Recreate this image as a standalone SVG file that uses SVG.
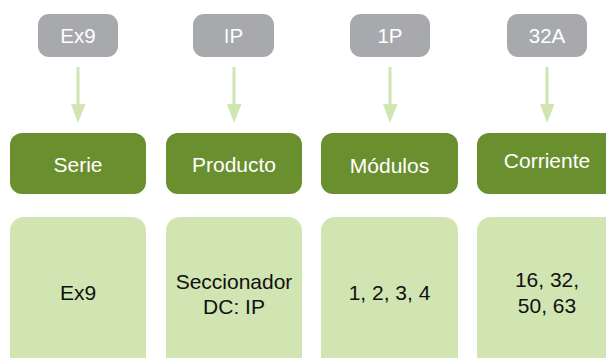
<svg xmlns="http://www.w3.org/2000/svg" width="606" height="358" viewBox="0 0 606 358">
<defs>
<style>
.tag rect{fill:#a7a9ac}
.tag text{fill:#ffffff;font-family:"Liberation Sans",Arial,sans-serif;font-size:20.5px;text-anchor:middle}
.head rect{fill:#6a8f2f}
.head text{fill:#ffffff;font-family:"Liberation Sans",Arial,sans-serif;font-size:21px;text-anchor:middle}
.val rect{fill:#d0e5b1}
.val text{fill:#111111;font-family:"Liberation Sans",Arial,sans-serif;font-size:21px;text-anchor:middle}
.conn line{stroke:#d0e5b1;stroke-width:3}
.conn polygon{fill:#d0e5b1}
</style>
</defs>
<rect width="606" height="358" fill="#ffffff"/>
<g id="tag-ex9" class="tag"><rect x="38" y="14" width="80" height="43" rx="11"/><text x="78" y="43">Ex9</text></g>
<g id="tag-ip" class="tag"><rect x="193" y="14" width="81" height="43" rx="11"/><text x="233.5" y="43">IP</text></g>
<g id="tag-1p" class="tag"><rect x="350" y="14" width="80" height="43" rx="11"/><text x="390" y="43">1P</text></g>
<g id="tag-32a" class="tag"><rect x="507" y="14" width="80" height="43" rx="11"/><text x="547" y="43">32A</text></g>
<g id="connectors" class="conn">
<line x1="78" y1="67" x2="78" y2="105"/><polygon points="71,104 85.5,104 78,123"/>
<line x1="234" y1="67" x2="234" y2="105"/><polygon points="227,104 241.5,104 234,123"/>
<line x1="390" y1="67" x2="390" y2="105"/><polygon points="383,104 397.5,104 390,123"/>
<line x1="547" y1="67" x2="547" y2="105"/><polygon points="540,104 554.5,104 547,123"/>
</g>
<g id="head-serie" class="head"><rect x="10" y="133" width="136" height="61" rx="12"/><text x="78" y="172">Serie</text></g>
<g id="head-producto" class="head"><rect x="166" y="133" width="136" height="61" rx="12"/><text x="234" y="172">Producto</text></g>
<g id="head-modulos" class="head"><rect x="321" y="133" width="137" height="61" rx="12"/><text x="389.5" y="173">Módulos</text></g>
<g id="head-corriente" class="head"><rect x="477" y="133" width="145" height="61" rx="12"/><text x="547" y="168">Corriente</text></g>
<g id="val-serie" class="val"><rect x="10" y="217" width="136" height="160" rx="14"/><text x="78" y="300">Ex9</text></g>
<g id="val-producto" class="val"><rect x="166" y="217" width="136" height="160" rx="14"/><text x="234" y="289">Seccionador</text><text x="234" y="314">DC: IP</text></g>
<g id="val-modulos" class="val"><rect x="321" y="217" width="137" height="160" rx="14"/><text x="389.5" y="300">1, 2, 3, 4</text></g>
<g id="val-corriente" class="val"><rect x="477" y="217" width="145" height="160" rx="14"/><text x="547" y="287">16, 32,</text><text x="547" y="313">50, 63</text></g>
</svg>
